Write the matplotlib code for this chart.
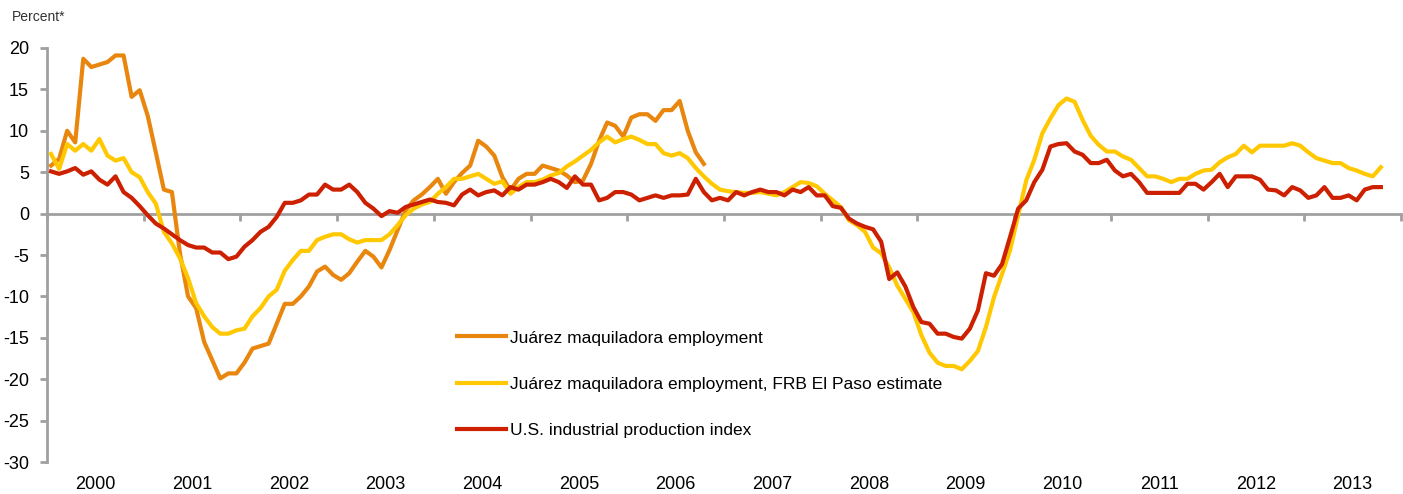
import numpy as np
import matplotlib
matplotlib.use("Agg")
import matplotlib.pyplot as plt

plt.rcParams['font.family'] = ['Liberation Sans', 'DejaVu Sans']
plt.rcParams['axes.unicode_minus'] = False

# monthly data, Jan 2000 onwards (percent change, year over year)
years = [str(y) for y in range(2000, 2014)]

juarez = [
    5.8, 6.6, 10.0, 8.6, 18.7, 17.7, 18.0, 18.3, 19.1, 19.1, 14.1, 14.9,
    11.8, 7.4, 2.9, 2.6, -4.8, -10.0, -11.4, -15.5, -17.7, -19.9, -19.3, -19.3,
    -18.0, -16.3, -16.0, -15.7, -13.3, -10.9, -10.9, -10.0, -8.8, -7.0, -6.4, -7.4,
    -8.0, -7.2, -5.8, -4.5, -5.2, -6.5, -4.4, -2.0, 0.4, 1.6, 2.3, 3.2,
    4.2, 2.4, 3.8, 4.9, 5.8, 8.8, 8.1, 7.0, 4.4, 2.8, 4.2, 4.8,
    4.8, 5.8, 5.5, 5.2, 4.6, 3.8, 4.0, 6.0, 8.8, 11.0, 10.6, 9.3,
    11.6, 12.0, 12.0, 11.2, 12.5, 12.5, 13.6, 10.0, 7.4, 6.0,
]

juarez_est = [
    7.2, 5.4, 8.4, 7.6, 8.4, 7.6, 9.0, 7.0, 6.4, 6.7, 5.0, 4.4,
    2.6, 1.2, -2.2, -3.6, -5.4, -7.8, -10.8, -12.4, -13.7, -14.5, -14.5, -14.1,
    -13.9, -12.4, -11.4, -10.0, -9.2, -6.9, -5.6, -4.5, -4.5, -3.2, -2.8, -2.5,
    -2.5, -3.1, -3.5, -3.2, -3.2, -3.2, -2.5, -1.4, -0.2, 0.6, 1.1, 1.4,
    2.4, 3.2, 4.2, 4.2, 4.5, 4.8, 4.2, 3.6, 3.9, 2.4, 3.2, 3.8,
    3.8, 4.1, 4.6, 4.9, 5.7, 6.3, 7.0, 7.7, 8.6, 9.3, 8.6, 9.0,
    9.3, 8.9, 8.4, 8.4, 7.3, 7.0, 7.3, 6.7, 5.5, 4.5, 3.6, 2.9,
    2.7, 2.6, 2.5, 2.5, 2.6, 2.4, 2.2, 2.6, 3.2, 3.8, 3.7, 3.3,
    2.4, 1.6, 0.8, -0.8, -1.4, -2.2, -4.1, -4.8, -6.5, -8.7, -10.3, -11.9,
    -14.7, -16.8, -18.0, -18.4, -18.4, -18.8, -17.8, -16.6, -13.7, -10.1, -7.3, -4.4,
    -0.2, 4.0, 6.5, 9.7, 11.5, 13.1, 13.9, 13.5, 11.3, 9.4, 8.3, 7.5,
    7.5, 6.9, 6.5, 5.5, 4.5, 4.5, 4.2, 3.8, 4.2, 4.2, 4.8, 5.2,
    5.3, 6.2, 6.8, 7.2, 8.2, 7.4, 8.2, 8.2, 8.2, 8.2, 8.5, 8.2,
    7.4, 6.7, 6.4, 6.1, 6.1, 5.5, 5.2, 4.8, 4.5, 5.6,
]

us_ip = [
    5.1, 4.8, 5.1, 5.5, 4.7, 5.1, 4.1, 3.5, 4.5, 2.6, 1.9, 0.9,
    -0.2, -1.2, -1.8, -2.5, -3.2, -3.8, -4.1, -4.1, -4.7, -4.7, -5.5, -5.2,
    -4.0, -3.2, -2.2, -1.6, -0.4, 1.3, 1.3, 1.6, 2.3, 2.3, 3.5, 2.9,
    2.9, 3.5, 2.6, 1.3, 0.6, -0.3, 0.3, 0.1, 0.8, 1.1, 1.4, 1.7,
    1.4, 1.3, 1.0, 2.3, 2.9, 2.2, 2.6, 2.8, 2.2, 3.2, 2.9, 3.5,
    3.5, 3.8, 4.2, 3.8, 3.1, 4.5, 3.5, 3.5, 1.6, 1.9, 2.6, 2.6,
    2.3, 1.6, 1.9, 2.2, 1.9, 2.2, 2.2, 2.3, 4.2, 2.6, 1.6, 1.9,
    1.6, 2.6, 2.2, 2.6, 2.9, 2.6, 2.6, 2.2, 2.9, 2.6, 3.2, 2.2,
    2.2, 0.9, 0.7, -0.6, -1.2, -1.6, -1.9, -3.4, -7.9, -7.1, -8.8, -11.3,
    -13.1, -13.3, -14.5, -14.5, -14.9, -15.1, -13.9, -11.7, -7.2, -7.5, -6.1, -2.8,
    0.6, 1.6, 3.8, 5.3, 8.1, 8.4, 8.5, 7.5, 7.1, 6.1, 6.1, 6.5,
    5.2, 4.5, 4.8, 3.8, 2.5, 2.5, 2.5, 2.5, 2.5, 3.6, 3.6, 2.9,
    3.8, 4.8, 3.2, 4.5, 4.5, 4.5, 4.1, 2.9, 2.8, 2.2, 3.2, 2.8,
    1.9, 2.2, 3.2, 1.9, 1.9, 2.2, 1.6, 2.9, 3.2, 3.2,
]

labels = ["Juárez maquiladora employment",
          "Juárez maquiladora employment, FRB El Paso estimate",
          "U.S. industrial production index"]
colors = ["#E8860E", "#FFC800", "#CC2000"]
axis_gray = "#A0A0A0"

fig = plt.figure(figsize=(14.03, 4.94), dpi=100)
ax = fig.add_axes([47 / 1403, 32 / 494, 1354 / 1403, 414 / 494])

for vals, lab, col in zip([juarez, juarez_est, us_ip], labels, colors):
    x = np.arange(len(vals)) + 0.5
    ax.plot(x, vals, color=col, lw=3, label=lab, zorder=3)

n_months = 12 * len(years)
ax.set_xlim(0, n_months)
ax.set_ylim(-30, 20)
ax.set_yticks(range(-30, 21, 5))
ax.set_xticks(range(0, n_months + 1, 12))
ax.set_xticklabels([])

for s in ["top", "right"]:
    ax.spines[s].set_visible(False)
ax.spines["left"].set_color(axis_gray)
ax.spines["left"].set_linewidth(2)
ax.spines["bottom"].set_position(("data", 0))
ax.spines["bottom"].set_color(axis_gray)
ax.spines["bottom"].set_linewidth(2)
ax.spines["bottom"].set_zorder(2)
ax.tick_params(axis="both", direction="out", length=5, width=2, color=axis_gray)
ax.tick_params(axis="y", labelsize=13, pad=8)

# year labels sit below the plot, centred in each year
for k, yr in enumerate(years):
    ax.text(6 + 12 * k, -0.055, yr, transform=ax.get_xaxis_transform(),
            ha="center", va="center", fontsize=13)

fig.text(12 / 1403, 1 - 17 / 494, "Percent*", fontsize=10, color="#333333",
         ha="left", va="center")

ax.legend(frameon=False, loc="upper left", bbox_to_anchor=(0.303, 0.318),
          fontsize=12.5, handlelength=2.8, handletextpad=0.25, labelspacing=1.79,
          borderpad=0, borderaxespad=0)

fig.savefig("out.png", dpi=100)
